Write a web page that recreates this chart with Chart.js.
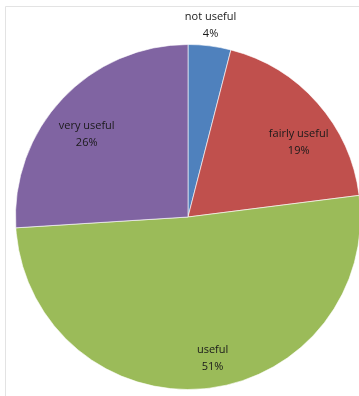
<!DOCTYPE html>
<html>
<head>
<meta charset="utf-8">
<script src="https://cdn.jsdelivr.net/npm/chart.js@4/dist/chart.umd.min.js"></script>
<style>
  html, body { margin: 0; padding: 0; background: #fff; overflow: hidden; }
  #wrap { position: relative; width: 372px; height: 396px; }
</style>
</head>
<body>
<div id="wrap"><canvas id="c"></canvas></div>
<script>
const categories = ["not useful", "fairly useful", "useful", "very useful"];
const values = [4, 19, 51, 26];
const colors = ["#4F81BD", "#C0504D", "#9BBB59", "#8064A2"];

// label placement: radius factor and angle adjust (degrees) per slice
const labelPlacement = [
  { r: 1.12, da: -0.5 },
  { r: 0.773, da: 7.5 },
  { r: 0.83, da: -4.5 },
  { r: 0.758, da: -4 }
];

const framePlugin = {
  id: 'frame',
  beforeDraw(chart) {
    const ctx = chart.ctx;
    ctx.save();
    ctx.strokeStyle = '#e3e3e3';
    ctx.lineWidth = 1;
    ctx.beginPath();
    ctx.moveTo(5.5, 400);
    ctx.lineTo(5.5, 6.5);
    ctx.lineTo(400, 6.5);
    ctx.stroke();
    ctx.restore();
  }
};

const labelPlugin = {
  id: 'pieLabels',
  afterDatasetsDraw(chart) {
    const ctx = chart.ctx;
    const meta = chart.getDatasetMeta(0);
    const total = values.reduce((a, b) => a + b, 0);
    ctx.save();
    ctx.font = '11px "Open Sans", sans-serif';
    ctx.fillStyle = '#1a1a1a';
    ctx.textAlign = 'center';
    ctx.textBaseline = 'middle';
    meta.data.forEach((arc, i) => {
      const p = arc.getProps(['x', 'y', 'startAngle', 'endAngle', 'outerRadius'], true);
      const mid = (p.startAngle + p.endAngle) / 2 + labelPlacement[i].da * Math.PI / 180;
      const rr = p.outerRadius * labelPlacement[i].r;
      const x = p.x + Math.cos(mid) * rr;
      const y = p.y + Math.sin(mid) * rr;
      const pct = Math.round(values[i] / total * 100) + '%';
      ctx.fillText(categories[i], x, y - 8.5);
      ctx.fillText(pct, x, y + 8.5);
    });
    ctx.restore();
  }
};

new Chart(document.getElementById('c'), {
  type: 'pie',
  data: {
    labels: categories,
    datasets: [{
      data: values,
      backgroundColor: colors,
      borderColor: 'rgba(255,255,255,0.6)',
      borderWidth: 1
    }]
  },
  options: {
    responsive: true,
    maintainAspectRatio: false,
    animation: false,
    layout: { padding: { left: 15, right: 11, top: 44, bottom: 6 } },
    plugins: {
      legend: { display: false },
      tooltip: { enabled: false },
      title: { display: false }
    }
  },
  plugins: [framePlugin, labelPlugin]
});
</script>
</body>
</html>
